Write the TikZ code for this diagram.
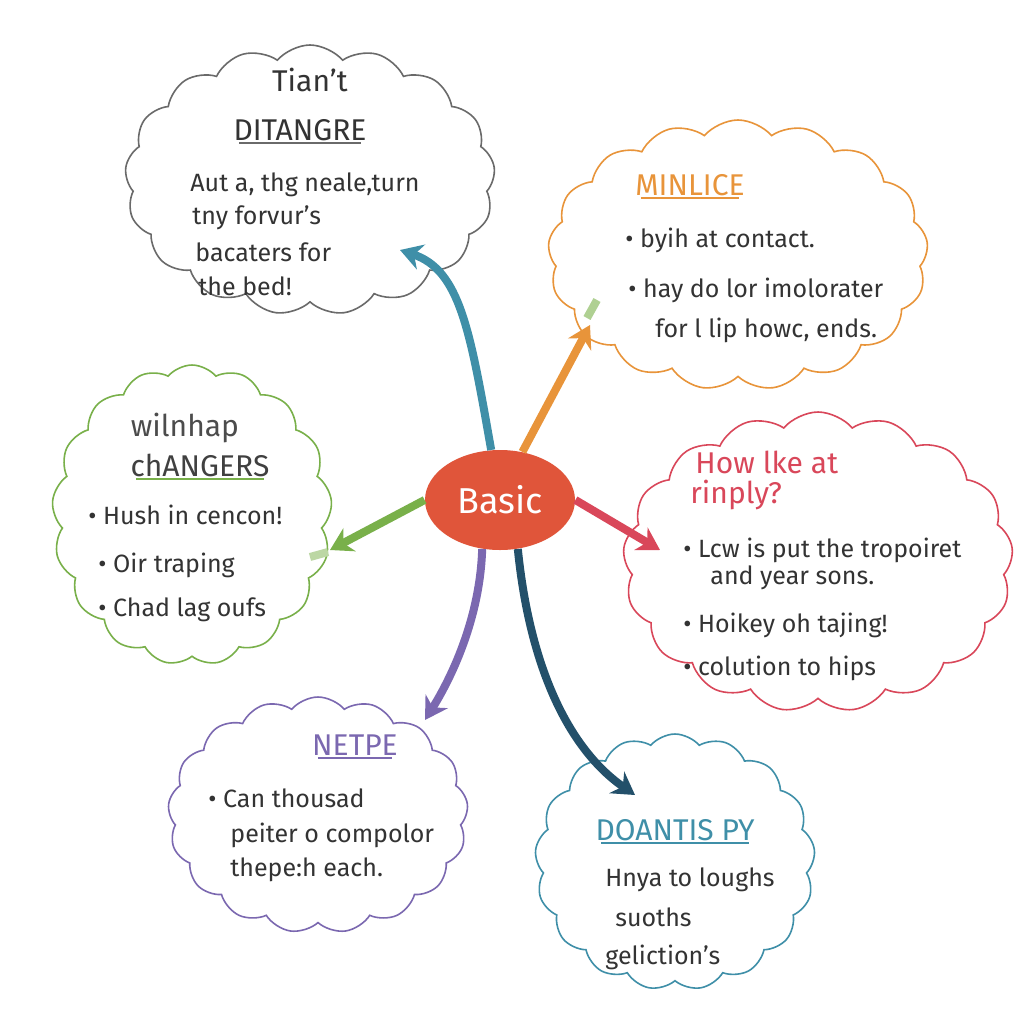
\documentclass[tikz,border=0pt]{standalone}
\usepackage{fontspec}
\setmainfont{Fira Sans}
\usetikzlibrary{shapes.symbols,shapes.geometric,arrows.meta}
\definecolor{inkgray}{HTML}{6A6A6A}
\definecolor{inkorange}{HTML}{E8943A}
\definecolor{inkred}{HTML}{D9475A}
\definecolor{inkgreen}{HTML}{79B04A}
\definecolor{inkpurple}{HTML}{7B68B0}
\definecolor{inkteal}{HTML}{3F8FA8}
\definecolor{inkdark}{HTML}{23506A}
\definecolor{hubred}{HTML}{E0553A}
\tikzset{
  bubble/.style={cloud, cloud puffs=17, cloud puff arc=100, draw=#1, line width=0.8pt},
  txt/.style={anchor=west, font=\fontsize{12.5}{15}\selectfont, text=black!80, inner sep=0pt},
  head/.style={font=\fontsize{15}{17}\selectfont, text=#1, inner sep=1pt},
  branch/.style={draw=#1, line width=4pt, -{Stealth[length=11pt,width=13pt]}},
}
\newcommand{\uline}[2]{\draw[#2, line width=0.9pt] ([xshift=4pt]#1.south west) -- ([xshift=-4pt]#1.south east);}
\begin{document}
\begin{tikzpicture}[x=0.5pt,y=-0.5pt]
    \useasboundingbox[fill=white] (0,0) rectangle (1024,1024);

    % clouds
    \node[bubble=inkgray, minimum width=185pt, minimum height=135pt] (cgray) at (310,180) {};
    \node[bubble=inkorange, minimum width=190pt, minimum height=135pt] (corange) at (738,255) {};
    \node[bubble=inkred, minimum width=195pt, minimum height=150pt] (cred) at (818,562) {};
    \node[bubble=inkgreen, minimum width=140pt, minimum height=150pt] (cgreen) at (192,515) {};
    \node[bubble=inkpurple, minimum width=150pt, minimum height=118pt] (cpurple) at (318,815) {};
    \node[bubble=inkteal, minimum width=140pt, minimum height=128pt] (cteal) at (675,862) {};

    % hub
    \node[ellipse, fill=hubred, minimum width=75pt, minimum height=50pt, text=white,
          font=\fontsize{18}{20}\selectfont] (hub) at (500,500) {Basic};

    % branches
    \coordinate (tgray) at (400,250);
    \coordinate (torange) at (590,325);
    \coordinate (tred) at (660,550);
    \coordinate (tgreen) at (330,550);
    \coordinate (tpurple) at (425,720);
    \coordinate (tteal) at (635,795);
    \draw[branch=inkteal] (hub.100) .. controls (470,330) and (460,270) .. (tgray);
    \draw[branch=inkorange] (hub.65) -- (torange);
    \draw[draw=inkgreen!60, line width=4pt] (587,318) -- (597,300);
    \draw[branch=inkred] (hub.east) -- (tred);
    \draw[branch=inkgreen] (hub.west) -- (tgreen);
    \draw[draw=inkgreen!50, line width=4pt] (328,552) -- (310,557);
    \draw[branch=inkpurple] (hub.250) .. controls (480,620) and (450,680) .. (tpurple);
    \draw[branch=inkdark] (hub.290) .. controls (530,670) and (570,750) .. (tteal);

    % gray cloud
    \node[head=black!80] (t1) at (310,80) {Tian't};
    \node[head=black!80] (h1) at (300,130) {DITANGRE};
    \uline{h1}{inkgray}
    \node[txt] (g1) at (190,185) {Aut a, thg neale,turn};
    \node[txt] (g2) at (192,218) {tny forvur's};
    \node[txt] (g3) at (195,252) {bacaters for};
    \node[txt] (g4) at (198,286) {the bed!};

    % orange cloud
    \node[head=inkorange] (h2) at (690,185) {MINLICE};
    \uline{h2}{inkorange}
    \node[txt] (o1) at (625,240) {• byih at contact.};
    \node[txt] (o2) at (628,290) {• hay do lor imolorater};
    \node[txt] (o3) at (655,330) {for l lip howc, ends.};

    % red cloud
    \node[head=inkred, anchor=west] (h3) at (693,462) {How lke at};
    \node[head=inkred, anchor=west] (h3b) at (688,495) {rinply?};
    \node[txt] (r1) at (683,550) {• Lcw is put the tropoiret};
    \node[txt] (r2) at (710,578) {and year sons.};
    \node[txt] (r3) at (683,625) {• Hoikey oh tajing!};
    \node[txt] (r4) at (683,668) {• colution to hips};

    % green cloud
    \node[head=black!70] (h4a) at (185,428) {wilnhap};
    \node[head=black!75] (h4) at (200,465) {chANGERS};
    \uline{h4}{inkgreen}
    \node[txt] (n1) at (88,515) {• Hush in cencon!};
    \node[txt] (n2) at (98,565) {• Oir traping};
    \node[txt] (n3) at (98,610) {• Chad lag oufs};

    % purple cloud
    \node[head=inkpurple] (h5) at (355,745) {NETPE};
    \uline{h5}{inkpurple}
    \node[txt] (p1) at (208,798) {• Can thousad};
    \node[txt] (p2) at (230,835) {peiter o compolor};
    \node[txt] (p3) at (230,870) {thepe:h each.};

    % teal cloud
    \node[head=inkteal] (h6) at (675,830) {DOANTIS PY};
    \uline{h6}{inkteal}
    \node[txt] (b1) at (605,880) {Hnya to loughs};
    \node[txt] (b2) at (615,917) {suoths};
    \node[txt] (b3) at (605,957) {geliction's};
\end{tikzpicture}
\end{document}
